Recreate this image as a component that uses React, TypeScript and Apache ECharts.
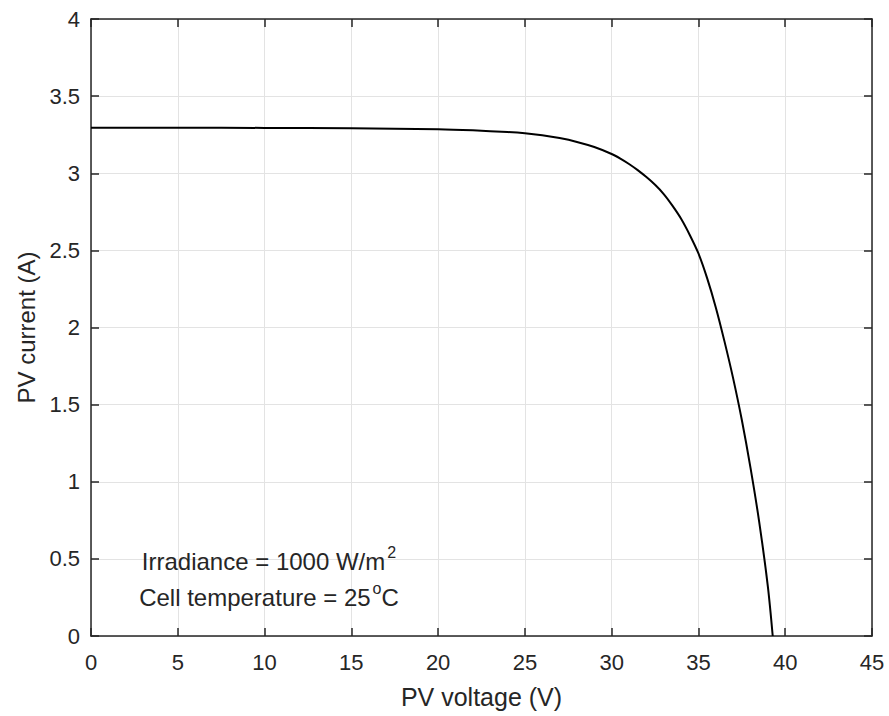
import React, { useEffect, useRef } from "react";
import * as echarts from "echarts";

// PV voltage (V)
const voltage = [0, 5, 10, 15, 20, 22, 24, 25, 26, 27, 28, 29, 30, 30.5, 31, 31.5, 32, 32.5, 33, 33.5, 34, 34.5, 35, 35.5, 36, 36.5, 37, 37.5, 38, 38.5, 39, 39.28];
// PV current (A)
const current = [3.295, 3.295, 3.294, 3.291, 3.285, 3.278, 3.267, 3.259, 3.246, 3.228, 3.203, 3.17, 3.125, 3.095, 3.06, 3.02, 2.975, 2.925, 2.865, 2.79, 2.705, 2.6, 2.48, 2.32, 2.13, 1.91, 1.67, 1.4, 1.09, 0.74, 0.32, 0];

const xTicks = { min: 0, max: 45, interval: 5 };
const yTicks = { min: 0, max: 4, interval: 0.5 };

const xTitle = "PV voltage (V)";
const yTitle = "PV current (A)";
const note1 = "Irradiance = 1000 W/m{sup|2}";
const note2 = "Cell temperature = 25{sup|o}C";

const FONT = "'Liberation Sans', Arial, Helvetica, sans-serif";
const INK = "#262626";
const GRID = "#e3e3e3";

export default function App() {
  const ref = useRef<HTMLDivElement>(null);
  useEffect(() => {
    if (!ref.current) return;
    const chart = echarts.init(ref.current, undefined, { renderer: "svg" });
    const axisLine = { show: true, onZero: false, lineStyle: { color: INK, width: 1.5 } };
    const tick = { show: true, inside: true, length: 8, lineStyle: { color: INK, width: 1.5 } };
    const richSup = { sup: { fontSize: 16, fontFamily: FONT, color: INK, padding: [0, 0, 18, 2] } };
    chart.setOption({
      animation: false,
      backgroundColor: "#ffffff",
      grid: { left: 91, right: 17, top: 19, bottom: 80, containLabel: false, outerBoundsMode: "none" },
      xAxis: [
        {
          type: "value",
          position: "bottom",
          ...xTicks,
          name: xTitle,
          nameLocation: "middle",
          nameGap: 48,
          nameTextStyle: { fontSize: 25, color: INK, fontFamily: FONT },
          axisLine,
          axisTick: tick,
          axisLabel: { fontSize: 22, color: INK, fontFamily: FONT, margin: 15 },
          splitLine: { show: true, lineStyle: { color: GRID, width: 1 } },
        },
        {
          type: "value",
          position: "top",
          ...xTicks,
          axisLine,
          axisTick: tick,
          axisLabel: { show: false },
          splitLine: { show: false },
        },
      ],
      yAxis: [
        {
          type: "value",
          position: "left",
          ...yTicks,
          name: yTitle,
          nameLocation: "middle",
          nameGap: 52,
          nameTextStyle: { fontSize: 24, color: INK, fontFamily: FONT },
          axisLine,
          axisTick: tick,
          axisLabel: { fontSize: 22, color: INK, fontFamily: FONT, margin: 11 },
          splitLine: { show: true, lineStyle: { color: GRID, width: 1 } },
        },
        {
          type: "value",
          position: "right",
          ...yTicks,
          axisLine,
          axisTick: tick,
          axisLabel: { show: false },
          splitLine: { show: false },
        },
      ],
      series: [
        {
          type: "line",
          xAxisIndex: 0,
          yAxisIndex: 0,
          data: voltage.map((v, i) => [v, current[i]]),
          showSymbol: false,
          smooth: 0.3,
          lineStyle: { color: "#000000", width: 2 },
          clip: true,
        },
      ],
      graphic: [
        {
          type: "text",
          x: 269,
          y: 561,
          z: 100,
          style: {
            text: note1,
            fontSize: 24,
            fontFamily: FONT,
            fill: INK,
            align: "center",
            verticalAlign: "middle",
            rich: richSup,
          },
        },
        {
          type: "text",
          x: 269,
          y: 597,
          z: 100,
          style: {
            text: note2,
            fontSize: 24,
            fontFamily: FONT,
            fill: INK,
            align: "center",
            verticalAlign: "middle",
            rich: richSup,
          },
        },
      ],
    });
    return () => chart.dispose();
  }, []);
  return (
    <div
      ref={ref}
      style={{ position: "fixed", left: 0, top: 0, width: 889, height: 716, background: "#fff" }}
    />
  );
}
